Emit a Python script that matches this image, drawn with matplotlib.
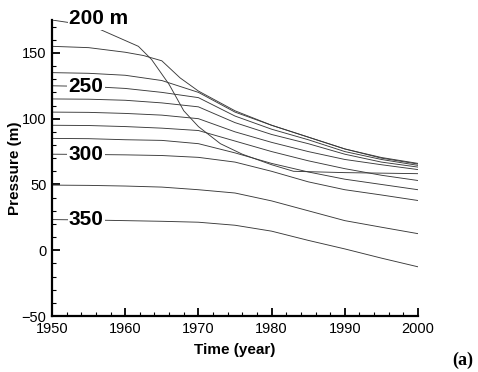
import matplotlib

matplotlib.use("Agg")

import matplotlib.pyplot as plt
from matplotlib.ticker import MultipleLocator

# values (pressure in m)
years = [1950, 1955, 1960, 1965, 1970, 1975, 1980, 1985, 1990, 1995, 2000]
p_c = [135, 134.5, 133, 129, 120, 105, 95, 86, 77, 70, 65.5]
p_d = [125, 124.5, 123, 120, 116, 102, 92, 84, 75, 69, 64.5]
p_e = [115, 114.8, 114, 112, 109, 97, 88, 81, 73, 67, 63.2]
p_f = [105, 104.8, 104, 102.7, 100, 90, 82, 75, 69, 65, 61.3]
p_g = [95, 94.8, 94, 92.8, 91, 83, 75, 68, 62, 57, 53]
p_h = [85, 84.8, 84, 83.5, 81, 74, 66, 59.5, 54, 50, 46]
p_i = [73, 72.8, 72.5, 72, 70.6, 67, 60, 52, 46, 42, 37.8]
p_j = [49.5, 49.3, 48.8, 48, 46, 43.5, 37.5, 30, 22.5, 17.5, 12.6]
p_k = [23.3, 23, 22.5, 22, 21.3, 19, 14.5, 7.5, 1, -6, -12.6]

years_b = [1950, 1955, 1960, 1962.5, 1965, 1967.5, 1970, 1975, 1980, 1985, 1990, 1995, 2000]
p_b = [155, 154, 150.5, 148, 144, 131, 121, 106, 95, 86, 77, 70.5, 66]

years_a = [1950, 1953, 1956.5, 1961.8, 1963.6, 1966, 1968, 1970, 1973, 1976, 1980, 1983, 1990, 2000]
p_a = [175, 172.5, 168, 155, 145, 126, 106, 94, 81, 73, 65, 60, 59, 58.2]

depth_labels = ["200 m", "250", "300", "350"]
label_x = [1956.4, 1954.6, 1954.6, 1954.7]
label_y = [176, 124.3, 72.5, 23.3]

plt.rcParams["font.family"] = ["Liberation Sans", "DejaVu Sans"]

fig = plt.figure(figsize=(4.78, 3.72), dpi=100)
ax = fig.add_axes([0.1088, 0.1505, 0.7657, 0.7957])

line_kw = dict(color="#3a3a3a", lw=0.65)
ax.plot(years_a, p_a, **line_kw)
ax.plot(years_b, p_b, **line_kw)
for series in (p_c, p_d, p_e, p_f, p_g, p_h, p_i, p_j, p_k):
    ax.plot(years, series, **line_kw)

for text, x, y in zip(depth_labels, label_x, label_y):
    ax.text(x, y, text, ha="center", va="center", fontsize=15, fontweight="bold",
            zorder=5, bbox=dict(facecolor="white", edgecolor="none", pad=1.0))

ax.set_xlim(1950, 2000)
ax.set_ylim(-50, 175)
ax.xaxis.set_major_locator(MultipleLocator(10))
ax.xaxis.set_minor_locator(MultipleLocator(2))
ax.yaxis.set_major_locator(MultipleLocator(50))
ax.yaxis.set_minor_locator(MultipleLocator(10))

for side in ("top", "right"):
    ax.spines[side].set_visible(False)
for side in ("left", "bottom"):
    ax.spines[side].set_linewidth(1.6)

ax.tick_params(which="major", direction="in", length=6, width=1.3, labelsize=10.5, pad=4)
ax.tick_params(which="minor", direction="in", length=3, width=0.8)

ax.set_xlabel("Time (year)", fontsize=11, fontweight="bold")
ax.set_ylabel("Pressure (m)", fontsize=11, fontweight="bold")
ax.xaxis.set_label_coords(0.5, -0.091)
ax.yaxis.set_label_coords(-0.082, 0.5)

fig.text(463 / 478, 1 - 360 / 372, "(a)", ha="center", va="center", fontsize=13,
         fontweight="bold", family=["Liberation Serif", "DejaVu Serif"])

fig.savefig("out.png", dpi=100, facecolor="white")
